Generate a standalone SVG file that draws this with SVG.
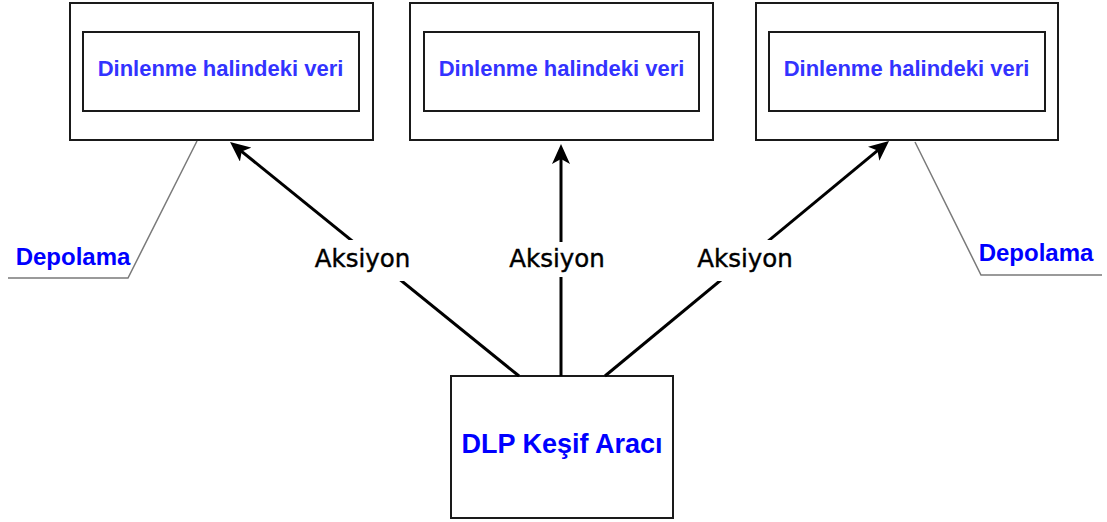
<svg xmlns="http://www.w3.org/2000/svg" width="1107" height="522" viewBox="0 0 1107 522">
  <style>
    .outer { fill: #ffffff; stroke: #1a1a1a; stroke-width: 2; }
    .inner { fill: #ffffff; stroke: #1a1a1a; stroke-width: 2; }
    .title { font-family: "Liberation Sans", Arial, sans-serif; font-weight: bold; font-size: 22px; fill: #3333ff; text-anchor: middle; }
    .main { font-family: "Liberation Sans", Arial, sans-serif; font-weight: bold; font-size: 27px; fill: #0000ff; text-anchor: middle; }
    .note { font-family: "Liberation Sans", Arial, sans-serif; font-weight: bold; font-size: 24px; fill: #0000ff; text-anchor: middle; }
    .edge { fill: none; stroke: #000000; stroke-width: 3; }
    .callout { fill: none; stroke: #7a7a7a; stroke-width: 1.5; }
    .label { font-family: "DejaVu Sans", Verdana, sans-serif; font-size: 24.5px; fill: #000000; stroke: #000000; stroke-width: 0.4; text-anchor: middle; }
    .label-bg { fill: #ffffff; }
  </style>
  <defs>
    <marker id="arrow" viewBox="0 0 20 18" markerWidth="20" markerHeight="18" refX="14" refY="9" orient="auto" markerUnits="userSpaceOnUse">
      <path d="M0,0 L20,9 L0,18 L5,9 Z" fill="#000000"/>
    </marker>
  </defs>

  <rect width="1107" height="522" fill="#ffffff"/>

  <!-- storage nodes -->
  <g id="storage-left">
    <rect class="outer" x="70" y="3" width="303" height="137"/>
    <rect class="inner" x="83" y="32" width="276" height="79"/>
    <text class="title" x="220.5" y="76">Dinlenme halindeki veri</text>
  </g>
  <g id="storage-middle">
    <rect class="outer" x="410" y="3" width="303" height="137"/>
    <rect class="inner" x="424" y="32" width="275" height="79"/>
    <text class="title" x="561.5" y="76">Dinlenme halindeki veri</text>
  </g>
  <g id="storage-right">
    <rect class="outer" x="756" y="3" width="302" height="137"/>
    <rect class="inner" x="769" y="32" width="276" height="79"/>
    <text class="title" x="906.5" y="76">Dinlenme halindeki veri</text>
  </g>

  <!-- discovery tool -->
  <g id="dlp-tool">
    <rect class="outer" x="451" y="376" width="222" height="142"/>
    <text class="main" x="562" y="453">DLP Keşif Aracı</text>
  </g>

  <!-- storage callouts -->
  <g id="callout-left">
    <polyline class="callout" points="197,141 128,278 8,278"/>
    <text class="note" x="73" y="265">Depolama</text>
  </g>
  <g id="callout-right">
    <polyline class="callout" points="915,142 981,275 1102,275"/>
    <text class="note" x="1036" y="261">Depolama</text>
  </g>

  <!-- action connectors -->
  <g id="connectors">
    <line class="edge" x1="519" y1="376" x2="234.7" y2="145.8" marker-end="url(#arrow)"/>
    <line class="edge" x1="561" y1="376" x2="561" y2="150" marker-end="url(#arrow)"/>
    <line class="edge" x1="605" y1="376" x2="884.4" y2="144.8" marker-end="url(#arrow)"/>

    <rect class="label-bg" x="312" y="240" width="101" height="41"/>
    <text class="label" x="362.5" y="267">Aksiyon</text>
    <rect class="label-bg" x="507" y="242" width="101" height="35"/>
    <text class="label" x="557" y="267">Aksiyon</text>
    <rect class="label-bg" x="695" y="240" width="101" height="41"/>
    <text class="label" x="745" y="267">Aksiyon</text>
  </g>
</svg>
